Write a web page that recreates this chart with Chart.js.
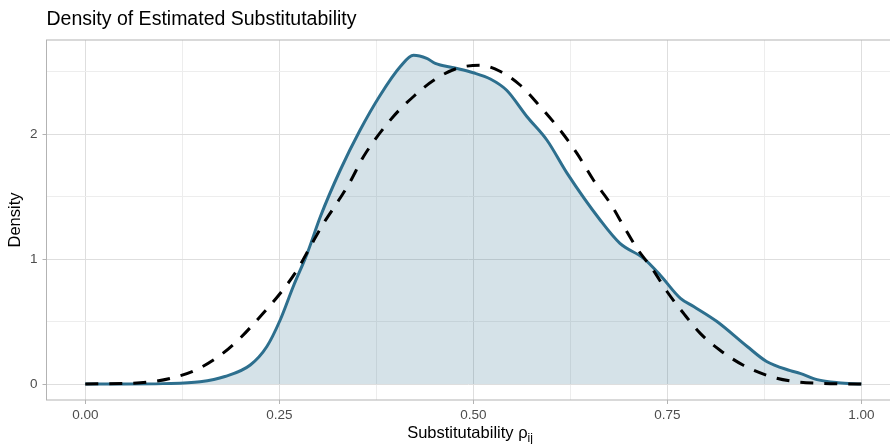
<!DOCTYPE html>
<html>
<head>
<meta charset="utf-8">
<script src="https://cdn.jsdelivr.net/npm/chart.js@4"></script>
<style>
  body { margin: 0; background: #fff; }
  #wrap { width: 890px; height: 444px; }
</style>
</head>
<body>
<div id="wrap"><canvas id="myChart" width="890" height="444"></canvas></div>
<script>
// kernel density of the estimates (solid, filled)
const estX = [0, 0.05, 0.1, 0.148, 0.18, 0.2126, 0.234, 0.251, 0.268, 0.286, 0.303, 0.3286, 0.354, 0.38, 0.406, 0.423, 0.44, 0.451, 0.4747, 0.5, 0.522, 0.543, 0.569, 0.595, 0.621, 0.6637, 0.689, 0.7195, 0.741, 0.767, 0.784, 0.814, 0.853, 0.878, 0.9085, 0.921, 0.943, 0.97, 1.0];
const estY = [0, 0, 0.003, 0.018, 0.06, 0.152, 0.30, 0.51, 0.78, 1.045, 1.34, 1.712, 2.03, 2.31, 2.54, 2.63, 2.605, 2.565, 2.53, 2.49, 2.44, 2.35, 2.14, 1.95, 1.685, 1.31, 1.125, 1.005, 0.87, 0.685, 0.62, 0.50, 0.30, 0.18, 0.107, 0.085, 0.035, 0.01, 0];

// reference density (dashed)
const refX = [0, 0.071, 0.1095, 0.144, 0.174, 0.2, 0.2255, 0.2513, 0.2728, 0.29, 0.307, 0.324, 0.3415, 0.3586, 0.397, 0.423, 0.449, 0.479, 0.509, 0.535, 0.5606, 0.586, 0.612, 0.6336, 0.655, 0.6765, 0.694, 0.711, 0.732, 0.7496, 0.771, 0.7925, 0.818, 0.848, 0.883, 0.913, 0.947, 1.0];
const refY = [0, 0.01, 0.045, 0.117, 0.23, 0.37, 0.54, 0.726, 0.91, 1.10, 1.285, 1.445, 1.62, 1.82, 2.14, 2.30, 2.43, 2.525, 2.55, 2.50, 2.39, 2.22, 2.03, 1.845, 1.63, 1.445, 1.26, 1.085, 0.91, 0.74, 0.565, 0.405, 0.27, 0.15, 0.06, 0.02, 0.005, 0];

const xGrid = [0, 0.125, 0.25, 0.375, 0.5, 0.625, 0.75, 0.875, 1.0];
const xLabels = ['0.00', '', '0.25', '', '0.50', '', '0.75', '', '1.00'];
const yGrid = [0, 0.5, 1, 1.5, 2, 2.5];
const yLabels = ['0', '', '1', '', '2', ''];

const FONT = '"Liberation Sans", Arial, sans-serif';

function toPoints(xs, ys) {
  return xs.map(function (x, i) { return { x: x, y: ys[i] }; });
}

const panelBorder = {
  id: 'panelBorder',
  afterDraw: function (chart) {
    const a = chart.chartArea;
    const ctx = chart.ctx;
    ctx.save();
    ctx.strokeStyle = '#B3B3B3';
    ctx.lineWidth = 1;
    ctx.strokeRect(a.left, a.top, a.right - a.left + 10, a.bottom - a.top);
    // x axis title with subscript
    const main = 'Substitutability \u03C1';
    const sub = 'ij';
    ctx.fillStyle = '#000';
    ctx.textBaseline = 'alphabetic';
    ctx.font = '16.5px ' + FONT;
    const w1 = ctx.measureText(main).width;
    ctx.font = '12px ' + FONT;
    const w2 = ctx.measureText(sub).width;
    const x0 = 470 - (w1 + w2) / 2;
    ctx.font = '16.5px ' + FONT;
    ctx.fillText(main, x0, 438);
    ctx.font = '12px ' + FONT;
    ctx.fillText(sub, x0 + w1, 442);
    ctx.restore();
  }
};

const data = {
  datasets: [
    {
      label: 'reference',
      data: toPoints(refX, refY),
      borderColor: '#000000',
      borderWidth: 3,
      borderDash: [13, 11],
      fill: false,
      pointRadius: 0,
      cubicInterpolationMode: 'monotone',
      order: 0
    },
    {
      label: 'estimated',
      data: toPoints(estX, estY),
      borderColor: '#2D6F8E',
      backgroundColor: 'rgba(46,111,142,0.2)',
      borderWidth: 3,
      fill: 'origin',
      pointRadius: 0,
      cubicInterpolationMode: 'monotone',
      order: 1
    }
  ]
};

const config = {
  type: 'line',
  data: data,
  options: {
    responsive: false,
    animation: false,
    layout: { padding: { left: 0, right: 0, top: 0, bottom: 0 } },
    plugins: {
      legend: { display: false },
      tooltip: { enabled: false },
      title: {
        display: true,
        text: 'Density of Estimated Substitutability',
        align: 'start',
        fullSize: false,
        color: '#000',
        font: { family: FONT, size: 19.5, weight: 'normal' },
        padding: { top: 8, bottom: 8.6 }
      }
    },
    scales: {
      x: {
        type: 'linear',
        min: -0.05,
        max: 1.037,
        afterBuildTicks: function (scale) {
          scale.ticks = xGrid.map(function (v) { return { value: v }; });
        },
        afterFit: function (scale) { scale.height = 44; },
        border: { display: false },
        grid: {
          color: function (c) { return c.index % 2 === 0 ? '#DEDEDE' : '#EDEDED'; },
          lineWidth: 1,
          tickLength: 4,
          tickColor: function (c) { return c.index % 2 === 0 ? '#B3B3B3' : 'rgba(0,0,0,0)'; }
        },
        ticks: {
          autoSkip: false,
          maxRotation: 0,
          padding: 3,
          color: '#4D4D4D',
          font: { family: FONT, size: 13.5 },
          callback: function (v, i) { return xLabels[i]; }
        }
      },
      y: {
        type: 'linear',
        min: -0.128,
        max: 2.752,
        afterBuildTicks: function (scale) {
          scale.ticks = yGrid.map(function (v) { return { value: v }; });
        },
        afterFit: function (scale) { scale.width = 46.5; },
        border: { display: false },
        grid: {
          color: function (c) { return c.index % 2 === 0 ? '#DEDEDE' : '#EDEDED'; },
          lineWidth: 1,
          tickLength: 4,
          tickColor: function (c) { return c.index % 2 === 0 ? '#B3B3B3' : 'rgba(0,0,0,0)'; }
        },
        title: {
          display: true,
          text: 'Density',
          color: '#000',
          font: { family: FONT, size: 16.5 },
          padding: { top: 6, bottom: 0 }
        },
        ticks: {
          autoSkip: false,
          padding: 5,
          color: '#4D4D4D',
          font: { family: FONT, size: 13.5 },
          callback: function (v, i) { return yLabels[i]; }
        }
      }
    }
  },
  plugins: [panelBorder]
};

new Chart(document.getElementById('myChart'), config);
</script>
</body>
</html>
